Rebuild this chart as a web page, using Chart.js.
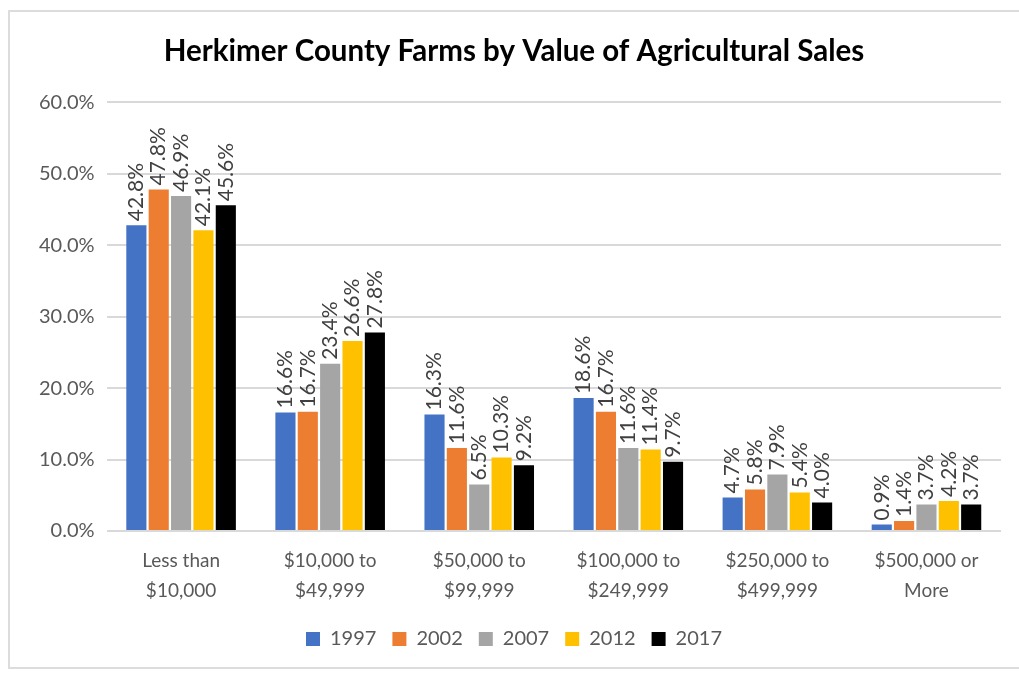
<!DOCTYPE html>
<html>
<head>
<meta charset="utf-8">
<script src="https://cdn.jsdelivr.net/npm/chart.js@4.4.1/dist/chart.umd.min.js"></script>
<style>
  html, body { margin: 0; padding: 0; background: #fff; }
  #wrap { position: relative; width: 1019px; height: 673px; overflow: hidden; }
  #frame { position: absolute; left: 8px; top: 10px; width: 1030px; height: 659px;
           border: 2px solid #dcdcdc; box-sizing: border-box; }
  canvas { position: absolute; left: 0; top: 0; }
</style>
</head>
<body>
<div id="wrap">
  <div id="frame"></div>
  <canvas id="c" width="1019" height="673"></canvas>
</div>
<script>
const categories = [
  ["Less than", "$10,000"],
  ["$10,000 to", "$49,999"],
  ["$50,000 to", "$99,999"],
  ["$100,000 to", "$249,999"],
  ["$250,000 to", "$499,999"],
  ["$500,000 or", "More"]
];
const years = ["1997", "2002", "2007", "2012", "2017"];
const v1997 = [42.8, 16.6, 16.3, 18.6, 4.7, 0.9];
const v2002 = [47.8, 16.7, 11.6, 16.7, 5.8, 1.4];
const v2007 = [46.9, 23.4, 6.5, 11.6, 7.9, 3.7];
const v2012 = [42.1, 26.6, 10.3, 11.4, 5.4, 4.2];
const v2017 = [45.6, 27.8, 9.2, 9.7, 4.0, 3.7];
const colors = ["#4472C4", "#ED7D31", "#A5A5A5", "#FFC000", "#000000"];
const series = [v1997, v2002, v2007, v2012, v2017];

const FONT = "Lato, 'Open Sans', sans-serif";

// Rotated value labels above each bar
const valueLabels = {
  id: 'valueLabels',
  afterDatasetsDraw(chart) {
    const ctx = chart.ctx;
    ctx.save();
    ctx.fillStyle = '#404040';
    ctx.font = '21px ' + FONT;
    ctx.textAlign = 'left';
    ctx.textBaseline = 'middle';
    chart.data.datasets.forEach((ds, di) => {
      const meta = chart.getDatasetMeta(di);
      meta.data.forEach((bar, i) => {
        ctx.save();
        ctx.translate(bar.x, bar.y - 4);
        ctx.rotate(-Math.PI / 2);
        ctx.fillText(ds.data[i].toFixed(1) + '%', 0, 0);
        ctx.restore();
      });
    });
    ctx.restore();
  }
};

new Chart(document.getElementById('c'), {
  type: 'bar',
  data: {
    labels: categories,
    datasets: years.map((y, k) => ({
      label: y,
      data: series[k],
      backgroundColor: colors[k],
      barPercentage: 0.9,
      categoryPercentage: 0.75
    }))
  },
  options: {
    responsive: false,
    animation: false,
    layout: { padding: { left: 27, right: 18, top: 22, bottom: 14 } },
    plugins: {
      title: {
        display: true,
        text: 'Herkimer County Farms by Value of Agricultural Sales',
        color: '#000',
        font: { family: FONT, size: 29.5, weight: 'bold' },
        padding: { top: 12, bottom: 33 }
      },
      legend: {
        position: 'bottom',
        labels: {
          color: '#595959',
          font: { family: FONT, size: 20 },
          boxWidth: 14,
          boxHeight: 14,
          padding: 16
        }
      },
      tooltip: { enabled: false }
    },
    scales: {
      x: {
        grid: { display: false },
        border: { display: false },
        ticks: { color: '#595959', font: { family: FONT, size: 19, lineHeight: 1.58 }, padding: 7 }
      },
      y: {
        min: 0, max: 60,
        ticks: {
          stepSize: 10,
          color: '#595959',
          font: { family: FONT, size: 20 },
          padding: 12,
          callback: v => v.toFixed(1) + '%'
        },
        grid: { color: '#d9d9d9', lineWidth: 2, drawTicks: false },
        border: { display: false }
      }
    }
  },
  plugins: [valueLabels]
});
</script>
</body>
</html>
